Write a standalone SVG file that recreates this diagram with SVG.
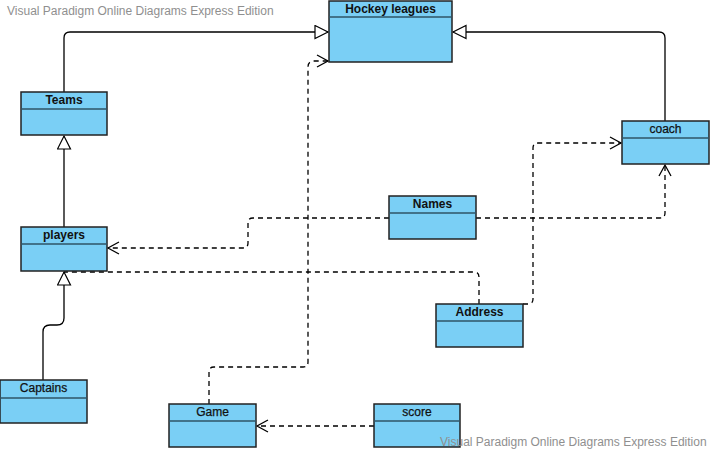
<svg xmlns="http://www.w3.org/2000/svg" width="712" height="451" viewBox="0 0 712 451">
<style>
.box{fill:#7acff5;stroke:#222;stroke-width:1.5}
.div{stroke:#2f5566;stroke-width:1.5}
.lb{font-family:"Liberation Sans",Arial,sans-serif;font-size:12px;fill:#111;text-anchor:middle}
.n{stroke:#111;stroke-width:0.25}
.b{font-weight:bold}
.wm{font-family:"Liberation Sans",Arial,sans-serif;font-size:12px;fill:#8f8f8f}
.c{fill:none;stroke:#000;stroke-width:1.3}
.d{fill:none;stroke:#000;stroke-width:1.3;stroke-dasharray:5 4}
</style>
<defs>
<marker id="tri" markerWidth="16" markerHeight="16" refX="14" refY="7.5" orient="auto" markerUnits="userSpaceOnUse">
<path d="M1,1 L14,7.5 L1,14 Z" fill="#fff" stroke="#000" stroke-width="1.2"/>
</marker>
<marker id="open" markerWidth="14" markerHeight="14" refX="12" refY="7" orient="auto" markerUnits="userSpaceOnUse">
<path d="M1,1 L12,7 L1,13" fill="none" stroke="#000" stroke-width="1.3"/>
</marker>
</defs>
<rect width="712" height="451" fill="#fff"/>
<text class="wm" x="7" y="15">Visual Paradigm Online Diagrams Express Edition</text>
<g id="connectors">
<path class="c" d="M64 92 V38 Q64 32 70 32 H328" marker-end="url(#tri)"/>
<path class="c" d="M665 121 V38 Q665 32 659 32 H453" marker-end="url(#tri)"/>
<path class="c" d="M64 227 V136" marker-end="url(#tri)"/>
<path class="c" d="M43 380 V332 Q43 325 50 325 H57 Q64 325 64 318 V272" marker-end="url(#tri)"/>
<path class="d" d="M209 404 V372 Q209 367 214 367 H303 Q308 367 308 362 V67 Q308 61 314 61 H328" marker-end="url(#open)"/>
<path class="d" d="M374 426 H257" marker-end="url(#open)"/>
<path class="d" d="M389 218 H253 Q248 218 248 223 V243 Q248 248 243 248 H108" marker-end="url(#open)"/>
<path class="d" d="M476 218 H660 Q665 218 665 213 V165" marker-end="url(#open)"/>
<path class="d" d="M479 304 V277 Q479 272 474 272 H64"/>
<path class="d" d="M523 304 H528 Q533 304 533 299 V148 Q533 143 538 143 H621" marker-end="url(#open)"/>
</g>
<g id="hockey-leagues">
<rect class="box" x="329" y="1" width="123" height="61"/>
<line class="div" x1="329" y1="17" x2="452" y2="17"/>
<text class="lb b" x="390.5" y="13">Hockey leagues</text>
</g>
<g id="teams">
<rect class="box" x="21" y="92" width="86" height="43"/>
<line class="div" x1="21" y1="109" x2="107" y2="109"/>
<text class="lb b" x="64" y="104">Teams</text>
</g>
<g id="players">
<rect class="box" x="21" y="227" width="86" height="44"/>
<line class="div" x1="21" y1="244" x2="107" y2="244"/>
<text class="lb b" x="64" y="239">players</text>
</g>
<g id="captains">
<rect class="box" x="0" y="380" width="87" height="43"/>
<line class="div" x1="0" y1="398" x2="87" y2="398"/>
<text class="lb n" x="43.5" y="392">Captains</text>
</g>
<g id="game">
<rect class="box" x="169" y="404" width="87" height="43"/>
<line class="div" x1="169" y1="421" x2="256" y2="421"/>
<text class="lb n" x="212.5" y="416">Game</text>
</g>
<g id="score">
<rect class="box" x="374" y="404" width="86" height="43"/>
<line class="div" x1="374" y1="421" x2="460" y2="421"/>
<text class="lb n" x="417" y="416">score</text>
</g>
<g id="names">
<rect class="box" x="389" y="196" width="87" height="43"/>
<line class="div" x1="389" y1="213" x2="476" y2="213"/>
<text class="lb b" x="432.5" y="208">Names</text>
</g>
<g id="address">
<rect class="box" x="436" y="304" width="87" height="43"/>
<line class="div" x1="436" y1="321" x2="523" y2="321"/>
<text class="lb b" x="479.5" y="316">Address</text>
</g>
<g id="coach">
<rect class="box" x="622" y="121" width="87" height="43"/>
<line class="div" x1="622" y1="138" x2="709" y2="138"/>
<text class="lb n" x="665.5" y="133">coach</text>
</g>
<text class="wm" x="440" y="446">Visual Paradigm Online Diagrams Express Edition</text>
</svg>
